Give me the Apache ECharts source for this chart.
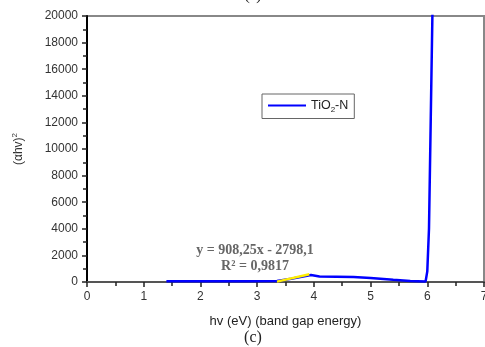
<!DOCTYPE html>
<html><head><meta charset="utf-8">
<script src="https://cdn.jsdelivr.net/npm/echarts@6/dist/echarts.min.js"></script>
<style>html,body{margin:0;padding:0;background:#fff}#c{width:485px;height:347px}</style>
</head><body><div id="c"></div>
<script>
var xTicks = [0,1,2,3,4,5,6,7];
var yTicks = [0,2000,4000,6000,8000,10000,12000,14000,16000,18000,20000];
var seriesName = 'TiO2-N';
var blueData = [[1.4,60],[2.0,60],[2.8,60],[3.35,70],[3.6,250],[3.95,520],[4.1,420],[4.4,400],[4.7,380],[5.0,300],[5.4,170],[5.7,80],[5.97,40],[6.0,800],[6.03,4000],[6.06,12000],[6.09,20000],[6.1,21000]];
var fitData = [[3.35,30],[3.92,580]];
var eqLine1 = 'y = 908,25x - 2798,1';
var eqLine2 = 'R\u00b2 = 0,9817';

var chart = echarts.init(document.getElementById('c'));
chart.setOption({
  animation:false,
  grid:{left:87,right:1,top:16,bottom:65,outerBoundsMode:'none',containLabel:false,show:true,borderColor:'#888',borderWidth:2,backgroundColor:'transparent'},
  legend:{
    data:[{name:seriesName,icon:'rect'}], left:262, top:94, itemWidth:38, itemHeight:2, itemGap:0,
    padding:[5,6,5,6], borderColor:'#666', borderWidth:1, backgroundColor:'#fff',
    formatter:function(){return 'TiO{sub|2}-N';},
    textStyle:{fontFamily:'Liberation Sans',fontSize:12.5,color:'#222',rich:{sub:{fontSize:8,verticalAlign:'bottom',padding:[8,0,0,0]}}}
  },
  xAxis:{type:'value',min:0,max:7,interval:1,
    name:'hv (eV) (band gap energy)',nameLocation:'middle',nameGap:33,
    nameTextStyle:{fontFamily:'Liberation Sans',fontSize:13,color:'#222'},
    axisLine:{show:true,lineStyle:{color:'#555',width:2}},
    axisTick:{show:true,inside:false,length:5,lineStyle:{color:'#222',width:1.5}},
    minorTick:{show:true,splitNumber:2,length:4,lineStyle:{color:'#222',width:1.5}},
    axisLabel:{fontFamily:'Liberation Sans',fontSize:12,color:'#333',margin:9,showMaxLabel:true},
    splitLine:{show:false}},
  yAxis:{type:'value',min:0,max:20000,interval:2000,
    name:'(\u03b1hv){sup|2}',nameLocation:'middle',nameGap:60,nameRotate:90,
    nameTextStyle:{fontFamily:'Liberation Sans',fontSize:12,color:'#333',rich:{sup:{fontSize:8,verticalAlign:'top',padding:[0,0,8,0]}}},
    axisLine:{show:true,lineStyle:{color:'#000',width:2}},
    axisTick:{show:true,inside:false,length:5,lineStyle:{color:'#222',width:1.5}},
    minorTick:{show:true,splitNumber:2,length:4,lineStyle:{color:'#222',width:1.5}},
    axisLabel:{fontFamily:'Liberation Sans',fontSize:12,color:'#333',margin:9,formatter:function(v){return String(v);}},
    splitLine:{show:false}},
  series:[
    {name:seriesName,type:'line',data:blueData,symbol:'none',clip:true,lineStyle:{color:'#0000ff',width:2.5},itemStyle:{color:'#0000ff'}},
    {name:'fit',type:'line',data:fitData,symbol:'none',lineStyle:{color:'#ffee00',width:2.5},itemStyle:{color:'#ffee00'},z:3}
  ],
  graphic:[
    {type:'text',x:253,y:-4,style:{text:'(c)',font:'15px "Liberation Serif"',fill:'#222',align:'center',verticalAlign:'middle'}},
    {type:'text',x:255,y:250,style:{text:eqLine1,font:'bold 14px "Liberation Serif"',fill:'#666',align:'center',verticalAlign:'middle'}},
    {type:'text',x:255,y:266,style:{text:eqLine2,font:'bold 14px "Liberation Serif"',fill:'#666',align:'center',verticalAlign:'middle'}},
    {type:'text',x:253,y:338,style:{text:'(c)',font:'16px "Liberation Serif"',fill:'#222',align:'center',verticalAlign:'middle'}}
  ]
});
</script></body></html>
